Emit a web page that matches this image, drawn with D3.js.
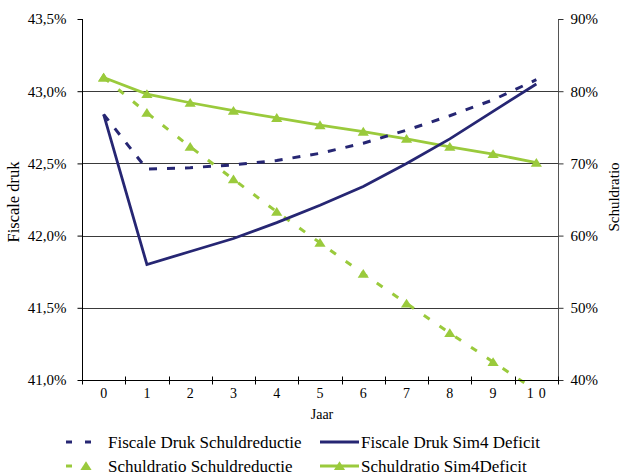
<!DOCTYPE html>
<html>
<head>
<meta charset="utf-8">
<script src="https://cdn.jsdelivr.net/npm/d3@7"></script>
<style>
  html, body { margin: 0; padding: 0; background: #fff; }
  svg { display: block; }
  svg text { font-family: "Liberation Serif", "Times New Roman", serif !important; }
</style>
</head>
<body>
<svg id="chart" width="622" height="476"></svg>
<script>
// Years on the horizontal axis
const years = [0, 1, 2, 3, 4, 5, 6, 7, 8, 9, 10];

// Fiscale druk (left axis, % of GDP)
const fiscaleDrukSchuldreductie = [42.84, 42.46, 42.47, 42.49, 42.52, 42.57, 42.64, 42.73, 42.83, 42.94, 43.08];
const fiscaleDrukSim4Deficit    = [42.84, 41.80, 41.89, 41.98, 42.09, 42.21, 42.34, 42.50, 42.67, 42.86, 43.05];

// Schuldratio (right axis, % of GDP)
const schuldratioSchuldreductie = [81.9, 77.0, 72.3, 67.8, 63.3, 59.0, 54.7, 50.6, 46.5, 42.5, 38.5];
const schuldratioSim4Deficit    = [81.9, 79.6, 78.4, 77.3, 76.3, 75.3, 74.4, 73.4, 72.3, 71.3, 70.1];

// Tick values
const leftTicks  = [41.0, 41.5, 42.0, 42.5, 43.0, 43.5];
const rightTicks = [40, 50, 60, 70, 80, 90];

const navy  = "#262673";
const green = "#9ACA3C";

const svg = d3.select("#chart");
const plot = { left: 82, right: 558, top: 19, bottom: 380 };

const x = d3.scaleBand().domain(years).range([plot.left, plot.right]).padding(0);
const cx = d => x(d) + x.bandwidth() / 2;
const yL = d3.scaleLinear().domain([41.0, 43.5]).range([plot.bottom, plot.top]);
const yR = d3.scaleLinear().domain([40, 90]).range([plot.bottom, plot.top]);

// Horizontal gridlines
svg.append("g")
  .selectAll("line")
  .data(leftTicks.filter(v => v > 41.0 && v < 43.5))
  .join("line")
  .attr("x1", plot.left).attr("x2", plot.right)
  .attr("y1", d => Math.round(yL(d)) + 0.5).attr("y2", d => Math.round(yL(d)) + 0.5)
  .attr("stroke", "#3a3a3a").attr("stroke-width", 1);

// Clip region for the series
svg.append("defs").append("clipPath").attr("id", "plotclip")
  .append("rect")
  .attr("x", plot.left).attr("y", plot.top - 10)
  .attr("width", plot.right - plot.left).attr("height", plot.bottom - plot.top + 14);

const series = svg.append("g").attr("clip-path", "url(#plotclip)");

const lineL = d3.line().x((d, i) => cx(years[i])).y(d => yL(d));
const lineR = d3.line().x((d, i) => cx(years[i])).y(d => yR(d));

const triangle = "M0,-4.8L5.6,4L-5.6,4Z";

// Schuldratio Sim4Deficit: solid green with triangles
series.append("path").datum(schuldratioSim4Deficit)
  .attr("d", lineR).attr("fill", "none")
  .attr("stroke", green).attr("stroke-width", 2.8);
series.append("g").selectAll("path").data(schuldratioSim4Deficit).join("path")
  .attr("d", triangle).attr("fill", green)
  .attr("transform", (d, i) => `translate(${cx(years[i])},${yR(d)})`);

// Schuldratio Schuldreductie: dashed green with triangles
series.append("path").datum(schuldratioSchuldreductie)
  .attr("d", lineR).attr("fill", "none")
  .attr("stroke", green).attr("stroke-width", 3)
  .attr("stroke-dasharray", "7 12");
series.append("g").selectAll("path").data(schuldratioSchuldreductie).join("path")
  .attr("d", triangle).attr("fill", green)
  .attr("transform", (d, i) => `translate(${cx(years[i])},${yR(d)})`);

// Fiscale Druk Schuldreductie: dashed navy
series.append("path").datum(fiscaleDrukSchuldreductie)
  .attr("d", lineL).attr("fill", "none")
  .attr("stroke", navy).attr("stroke-width", 3)
  .attr("stroke-dasharray", "8 10");

// Fiscale Druk Sim4 Deficit: solid navy
series.append("path").datum(fiscaleDrukSim4Deficit)
  .attr("d", lineL).attr("fill", "none")
  .attr("stroke", navy).attr("stroke-width", 2.8);

// Left axis
const leftAxis = svg.append("g")
  .attr("transform", `translate(${plot.left + 0.5},0)`)
  .call(d3.axisLeft(yL).tickValues(leftTicks).tickSize(5).tickPadding(11)
    .tickFormat(d => d.toFixed(1).replace(".", ",") + "%"));
leftAxis.select(".domain").attr("stroke", "#000").attr("d", `M0,${plot.top}V${plot.bottom}`);
leftAxis.selectAll(".tick line").attr("stroke", "#000");
leftAxis.selectAll(".tick text").attr("font-size", 15).attr("fill", "#000");

// Right axis
const rightAxis = svg.append("g")
  .attr("transform", `translate(${plot.right + 0.5},0)`)
  .call(d3.axisRight(yR).tickValues(rightTicks).tickSize(5).tickPadding(7)
    .tickFormat(d => d + "%"));
rightAxis.select(".domain").attr("stroke", "#555").attr("d", `M0,${plot.top}V${plot.bottom}`);
rightAxis.selectAll(".tick line").attr("stroke", "#333");
rightAxis.selectAll(".tick text").attr("font-size", 15).attr("fill", "#000");

// Bottom axis: labels centred in each band, tick marks on the band edges
const bottomAxis = svg.append("g")
  .attr("transform", `translate(0,${plot.bottom + 0.5})`)
  .call(d3.axisBottom(x).tickSize(0).tickPadding(8));
bottomAxis.select(".domain").attr("stroke", "#000").attr("d", `M${plot.left},0H${plot.right}`);
bottomAxis.selectAll(".tick text").attr("font-size", 14).attr("fill", "#000")
  .attr("letter-spacing", d => d === 10 ? "5px" : null)
  .attr("dx", d => d === 10 ? "2.5px" : null);
const edges = years.map(d => x(d)).concat([plot.right]);
bottomAxis.append("g").selectAll("line").data(edges).join("line")
  .attr("x1", d => Math.round(d) + 0.5).attr("x2", d => Math.round(d) + 0.5)
  .attr("y1", -4).attr("y2", 4).attr("stroke", "#000");

// Axis titles
svg.append("text")
  .attr("transform", `translate(19,202) rotate(-90)`)
  .attr("text-anchor", "middle").attr("font-size", 16.5).attr("fill", "#000")
  .text("Fiscale druk");
svg.append("text")
  .attr("transform", `translate(619,197) rotate(-90)`)
  .attr("text-anchor", "middle").attr("font-size", 15).attr("fill", "#000")
  .text("Schuldratio");
svg.append("text")
  .attr("x", 322).attr("y", 419)
  .attr("text-anchor", "middle").attr("font-size", 14).attr("fill", "#000")
  .text("Jaar");

// Legend
const legend = svg.append("g").attr("font-size", 17).attr("fill", "#000");
const rowY = [442, 466];

// Row 1, column 1: dashed navy
legend.append("line").attr("x1", 66).attr("x2", 92).attr("y1", rowY[0]).attr("y2", rowY[0])
  .attr("stroke", navy).attr("stroke-width", 3).attr("stroke-dasharray", "6 13");
legend.append("text").attr("x", 108).attr("y", rowY[0]).attr("dy", "0.35em")
  .text("Fiscale Druk Schuldreductie");

// Row 1, column 2: solid navy
legend.append("line").attr("x1", 320).attr("x2", 359).attr("y1", rowY[0]).attr("y2", rowY[0])
  .attr("stroke", navy).attr("stroke-width", 2.8);
legend.append("text").attr("x", 361).attr("y", rowY[0]).attr("dy", "0.35em")
  .text("Fiscale Druk Sim4 Deficit");

// Row 2, column 1: dashed green with triangle
legend.append("line").attr("x1", 66).attr("x2", 72).attr("y1", rowY[1]).attr("y2", rowY[1])
  .attr("stroke", green).attr("stroke-width", 3);
legend.append("path").attr("d", triangle).attr("fill", green)
  .attr("transform", `translate(86,${rowY[1]})`);
legend.append("text").attr("x", 108).attr("y", rowY[1]).attr("dy", "0.35em")
  .text("Schuldratio Schuldreductie");

// Row 2, column 2: solid green with triangle
legend.append("line").attr("x1", 320).attr("x2", 359).attr("y1", rowY[1]).attr("y2", rowY[1])
  .attr("stroke", green).attr("stroke-width", 2.8);
legend.append("path").attr("d", triangle).attr("fill", green)
  .attr("transform", `translate(339.5,${rowY[1]})`);
legend.append("text").attr("x", 361).attr("y", rowY[1]).attr("dy", "0.35em")
  .text("Schuldratio Sim4Deficit");
</script>
</body>
</html>
